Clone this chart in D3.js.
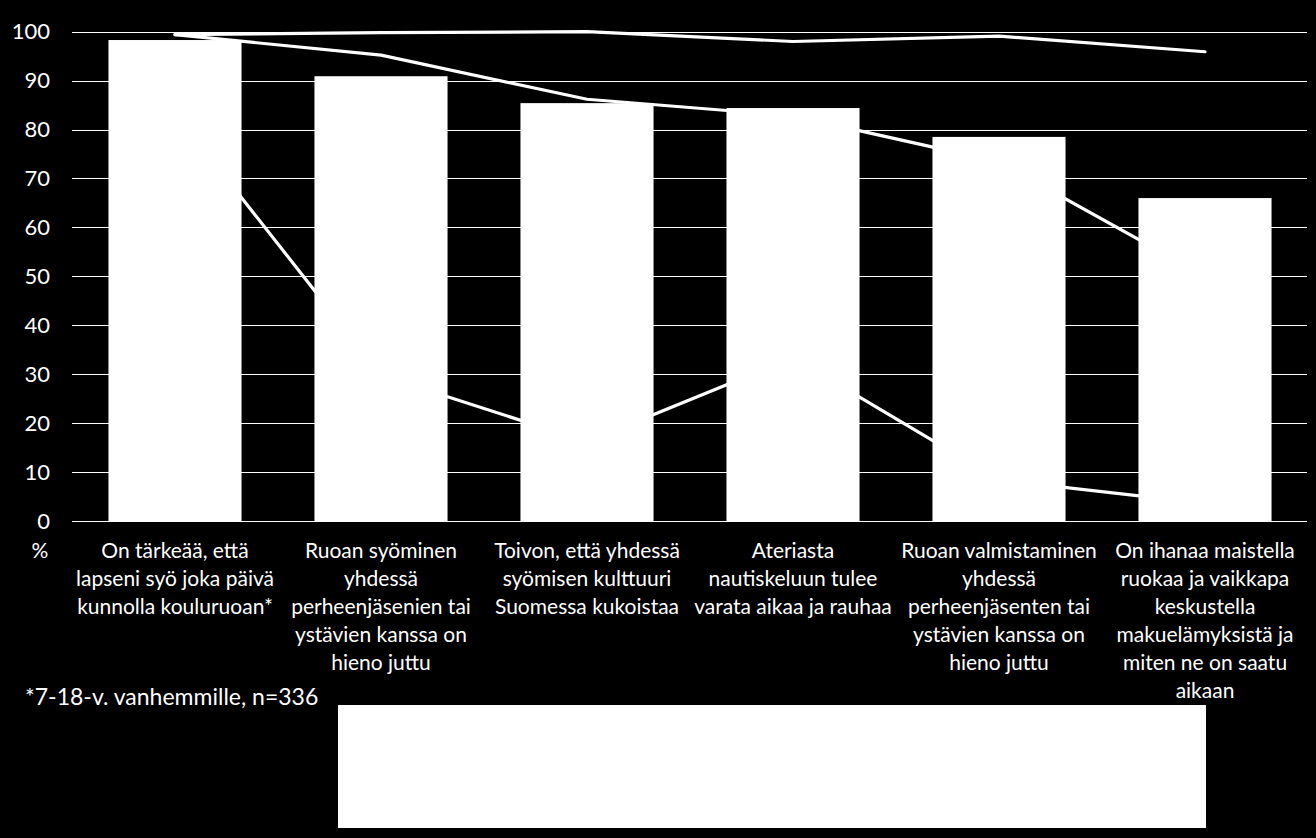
<!DOCTYPE html>
<html><head><meta charset="utf-8">
<script src="https://cdn.jsdelivr.net/npm/d3@7"></script>
<style>html,body{margin:0;padding:0;background:#000;}svg{display:block;}</style>
</head><body>
<svg id="chart" width="1316" height="838"></svg>
<script>
const categories = [
  ["On tärkeää, että", "lapseni syö joka päivä", "kunnolla kouluruoan*"],
  ["Ruoan syöminen", "yhdessä", "perheenjäsenien tai", "ystävien kanssa on", "hieno juttu"],
  ["Toivon, että yhdessä", "syömisen kulttuuri", "Suomessa kukoistaa"],
  ["Ateriasta", "nautiskeluun tulee", "varata aikaa ja rauhaa"],
  ["Ruoan valmistaminen", "yhdessä", "perheenjäsenten tai", "ystävien kanssa on", "hieno juttu"],
  ["On ihanaa maistella", "ruokaa ja vaikkapa", "keskustella", "makuelämyksistä ja", "miten ne on saatu", "aikaan"]
];
const barValues = [98.3, 90.9, 85.4, 84.4, 78.5, 66.0];
const lineA = [99.4, 99.8, 100, 98.0, 99.1, 95.9];
const lineB = [99.4, 95.2, 86.2, 82.8, 73.4, 50.0];
const lineC = [83.4, 29.8, 16.2, 33.4, 8.4, 3.6];
const yTicks = [0, 10, 20, 30, 40, 50, 60, 70, 80, 90, 100];
const unitLabel = "%";
const footnote = "*7-18-v. vanhemmille, n=336";

(function() {
const svg = d3.select("#chart");
const mLeft = 72, mRight = 1308, mTop = 31.7, mBottom = 521;
const font = "Lato, 'Open Sans', sans-serif";

svg.append("rect").attr("width", 1316).attr("height", 838).attr("fill", "#000");

const x = d3.scaleBand().domain(d3.range(categories.length)).range([mLeft, mRight])
  .paddingInner(0.354).paddingOuter(0.177);
const y = d3.scaleLinear().domain([0, 100]).range([mBottom, mTop]);

// gridlines
svg.append("g").selectAll("line").data(yTicks).join("line")
  .attr("x1", mLeft).attr("x2", mRight - 1)
  .attr("y1", d => Math.round(y(d)) + 0.5).attr("y2", d => Math.round(y(d)) + 0.5)
  .attr("stroke", "#fff").attr("stroke-width", 1.2);

// y axis labels
const yAxis = d3.axisLeft(y).tickValues(yTicks).tickSize(0).tickPadding(0).tickFormat(d3.format("d"));
const gy = svg.append("g").attr("transform", `translate(50,0)`).call(yAxis);
gy.select(".domain").remove();
gy.selectAll("text").attr("fill", "#fff").style("font-family", font).style("font-size", "22px");

// lines
const lineGen = d3.line().x((d, i) => x(i) + x.bandwidth() / 2).y(d => y(d));
[lineA, lineB, lineC].forEach(s => {
  svg.append("path").datum(s).attr("d", lineGen)
    .attr("fill", "none").attr("stroke", "#fff").attr("stroke-width", 3.2)
    .attr("stroke-linecap", "round").attr("stroke-linejoin", "round");
});

// bars
svg.append("g").selectAll("rect").data(barValues).join("rect")
  .attr("x", (d, i) => x(i)).attr("width", x.bandwidth())
  .attr("y", d => y(d)).attr("height", d => y(0) - y(d))
  .attr("fill", "#fff");

// category labels
const xAxis = d3.axisBottom(x).tickSize(0).tickFormat(() => "");
const gx = svg.append("g").attr("transform", `translate(0,${mBottom})`).call(xAxis);
gx.select(".domain").remove();
gx.selectAll(".tick").each(function(d) {
  const t = d3.select(this).append("text")
    .attr("fill", "#fff").attr("text-anchor", "middle")
    .style("font-family", font).style("font-size", "21px");
  categories[d].forEach((ln, j) => {
    t.append("tspan").attr("x", 0).attr("y", 37 + j * 28).text(ln);
  });
});

svg.append("text").attr("x", 40).attr("y", 558).attr("text-anchor", "middle")
  .attr("fill", "#fff").style("font-family", font).style("font-size", "21px").text(unitLabel);

svg.append("text").attr("x", 25).attr("y", 705)
  .attr("fill", "#fff").style("font-family", font).style("font-size", "23px").text(footnote);

// white box
svg.append("rect").attr("x", 338).attr("y", 705).attr("width", 868).attr("height", 123).attr("fill", "#fff");
})();
</script>
</body></html>
